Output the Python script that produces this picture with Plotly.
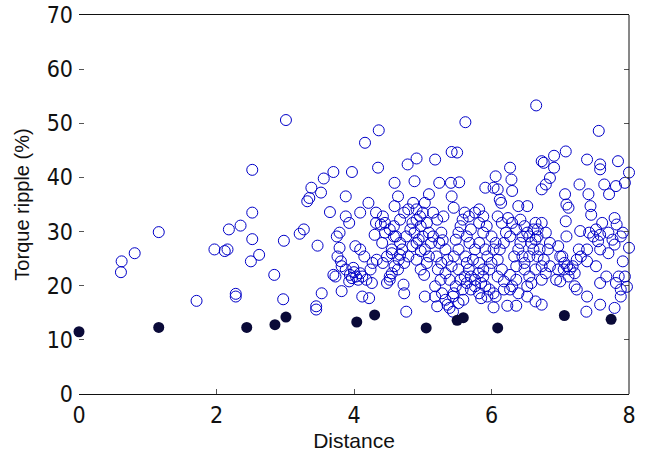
import plotly.graph_objects as go

# Open circles: all candidate designs (Distance, Torque ripple %)
cand_x = [
    0.61, 0.62, 0.81, 1.16, 1.71, 1.97, 2.12, 2.16, 2.18, 2.35, 2.28, 2.28, 2.50, 2.52, 2.52, 2.52,
    2.62, 2.84, 2.97, 2.98, 3.01, 3.21, 3.27, 3.32, 3.35, 3.38, 3.47, 3.45, 3.45, 3.53, 3.52, 3.56,
    3.65, 3.70, 3.70, 3.73, 3.75, 3.79, 3.79, 3.81, 3.82, 3.88, 3.88, 3.93, 3.97,
    3.88, 3.94, 3.97, 4.00, 4.03, 4.06, 4.09, 3.99, 3.93, 4.12, 4.18, 4.24, 4.27, 4.15, 4.09, 3.82, 3.76,
    4.02, 4.09, 4.16, 4.12, 4.21, 4.22, 4.26, 4.30, 4.32, 4.32, 4.33, 4.36, 4.35, 4.39, 4.45, 4.48,
    4.52, 4.55, 4.58, 4.59, 4.59, 4.64, 4.67, 4.72, 4.73, 4.76, 4.78, 4.88, 4.86, 4.91, 4.88, 4.91,
    4.96, 4.97, 5.02, 5.03, 5.09, 5.15, 5.18, 5.21, 5.24, 5.24, 5.27, 5.18, 5.21, 5.30, 5.27, 5.42,
    5.50, 5.41, 5.53, 5.42, 5.45, 5.62, 5.91, 6.03, 6.06, 6.09, 6.12, 6.14, 6.27, 6.29, 6.30, 6.24,
    6.39, 6.52, 6.65, 6.73, 6.76, 6.73, 6.79, 6.91, 6.91, 6.85, 7.08, 7.07, 7.09, 7.12, 7.08, 7.09,
    7.28, 7.29, 7.39, 7.41, 7.44, 7.45, 7.56, 7.58, 7.58, 7.64, 7.71, 7.84, 7.81, 7.94, 8.00, 7.79,
    7.82, 7.61, 7.58, 7.55, 7.58, 7.70, 7.88, 8.00, 7.91, 7.97, 7.88, 7.81, 7.79, 7.88, 7.58, 7.58,
    7.39, 7.38, 7.39, 7.39, 7.21, 7.24, 7.00, 7.00, 7.27, 6.73, 6.64, 6.52, 6.36, 6.23, 6.03, 6.06,
    5.85, 6.27,
    5.15, 5.20, 5.22, 5.26, 5.18, 5.28, 5.33, 5.36, 5.39, 5.44, 5.45, 5.48, 5.39, 5.33, 5.42, 5.45,
    5.52, 5.48, 5.52, 5.55, 5.58, 5.33, 5.29, 5.36, 5.52, 5.55, 5.58, 5.59, 5.52, 5.44,
    5.61, 5.67, 5.76, 5.82, 5.88, 5.70, 5.64, 5.68, 5.76, 5.82, 5.91, 5.94, 6.00, 5.97, 5.88, 5.82,
    5.73, 5.67, 5.70, 5.76, 5.85, 5.91, 5.97, 6.03, 5.94, 5.82, 5.70, 5.64, 5.61, 5.64, 5.62, 5.88,
    5.76, 5.81, 6.03, 6.06, 6.00, 5.93, 5.82, 5.88,
    6.09, 6.15, 6.21, 6.27, 6.18, 6.12, 6.09, 6.15, 6.09, 6.18, 6.27, 6.36, 6.33, 6.39, 6.42, 6.45,
    6.36, 6.30, 6.42, 6.48, 6.52, 6.45, 6.48, 6.36, 6.30, 6.18, 6.39,
    6.55, 6.58, 6.61, 6.64, 6.67, 6.70, 6.67, 6.73, 6.64, 6.55, 6.58, 6.52, 6.73, 6.79, 6.85, 6.76,
    6.82, 6.85, 6.79, 6.73, 6.61, 6.55, 6.48, 6.67, 6.64,
    4.42, 4.45, 4.52, 4.58, 4.61, 4.67, 4.70, 4.65, 4.59, 4.55, 4.52, 4.64, 4.73, 4.79, 4.76, 4.82,
    4.85, 4.91, 4.97, 5.00, 4.94, 4.85, 4.79, 4.73, 4.67, 4.91, 4.97, 5.06, 5.09, 5.03, 5.12, 5.09,
    5.06, 5.00, 5.03, 4.91, 4.55, 4.48, 4.42, 4.41,
    6.97, 7.03, 7.06, 7.10, 7.14, 7.18, 7.21, 7.12, 7.05, 6.97, 6.94, 7.24, 7.30,
    7.42, 7.48, 7.52, 7.70, 7.76, 7.79, 7.91, 7.94, 7.85, 7.67, 7.52,
]
cand_y = [
    22.5, 24.5, 26.0, 29.9, 17.2, 26.7, 26.4, 26.7, 30.4, 31.1, 18.5, 18.0, 24.5, 28.6, 33.5, 41.4,
    25.7, 22.0, 17.5, 28.3, 50.6, 29.6, 30.4, 35.6, 36.2, 38.1, 27.4, 16.2, 15.6, 18.6, 37.2, 39.8,
    33.6, 41.0, 22.0, 21.7, 29.1, 29.8, 27.0, 24.5, 19.0, 36.5, 32.8, 31.6, 41.0,
    23.0, 22.0, 21.4, 22.5, 21.7, 21.1, 22.3, 23.3, 20.8, 21.7, 21.1, 23.0, 24.2, 25.4, 26.7, 23.6, 25.4,
    27.3, 33.5, 46.4, 18.0, 35.3, 17.7, 20.5, 29.4, 31.6, 33.5, 24.8, 48.7, 41.8, 31.3, 29.8, 20.5,
    21.7, 26.0, 29.1, 39.0, 34.7, 36.5, 25.7, 20.2, 18.6, 15.2, 42.4, 39.3, 35.3, 43.5, 29.8, 27.9,
    32.8, 26.4, 22.0, 18.0, 36.9, 33.5, 43.3, 32.2, 39.0, 27.9, 24.2, 18.0, 16.2, 32.8, 29.8, 44.7,
    44.6, 39.0, 39.1, 36.5, 34.4, 50.2, 38.1, 38.1, 40.2, 37.8, 35.9, 35.3, 41.8, 39.6, 37.5, 32.5,
    34.7, 34.7, 53.3, 43.0, 42.7, 37.8, 38.7, 44.0, 41.8, 39.9, 44.8, 36.9, 35.0, 34.4, 31.9, 29.1,
    38.7, 30.1, 43.3, 36.9, 34.7, 33.1, 48.6, 42.4, 41.5, 38.7, 36.9, 43.0, 38.4, 39.0, 40.9, 32.5,
    31.3, 31.6, 29.4, 28.2, 26.7, 26.0, 29.1, 27.0, 24.5, 19.8, 19.3, 20.5, 15.9, 18.0, 20.5, 16.5,
    18.0, 15.2, 24.5, 26.7, 19.9, 19.3, 20.8, 25.4, 26.7, 16.5, 17.1, 18.0, 16.3, 16.3, 16.0, 18.0,
    17.7, 19.3,
    29.1, 25.4, 23.0, 21.1, 19.9, 18.6, 17.4, 16.5, 15.9, 15.2, 18.6, 19.9, 21.1, 22.3, 23.6, 25.4,
    26.7, 28.5, 29.8, 31.0, 32.2, 26.7, 28.4, 24.8, 23.0, 21.1, 19.3, 17.4, 16.8, 18.0,
    33.5, 32.8, 33.5, 31.6, 29.8, 30.4, 29.1, 27.9, 26.7, 27.9, 26.7, 25.4, 24.2, 23.0, 23.0, 24.2,
    24.8, 23.0, 21.7, 21.1, 20.5, 19.9, 19.3, 18.6, 18.0, 18.6, 19.3, 20.5, 21.7, 24.2, 25.4, 21.7,
    19.9, 22.3, 26.7, 27.9, 29.1, 31.0, 34.1, 32.8,
    32.8, 31.6, 29.8, 29.1, 27.9, 26.7, 24.8, 23.0, 21.7, 20.8, 22.0, 23.6, 25.4, 26.7, 27.9, 29.1,
    30.4, 31.6, 32.2, 31.0, 29.8, 25.4, 23.0, 21.1, 19.9, 19.3, 18.6,
    29.1, 27.9, 30.4, 31.6, 29.1, 26.7, 25.4, 23.6, 23.0, 21.7, 20.5, 19.9, 21.1, 22.3, 23.6, 24.8,
    26.7, 27.9, 29.8, 31.6, 26.7, 25.4, 24.2, 30.4, 28.5,
    32.8, 31.6, 30.4, 31.0, 29.1, 27.9, 26.7, 24.8, 23.6, 22.3, 21.1, 23.0, 24.2, 25.4, 29.1, 30.4,
    31.6, 32.2, 31.0, 29.1, 28.5, 27.3, 34.1, 33.5, 32.2, 24.8, 23.0, 24.2, 25.4, 26.7, 27.9, 29.8,
    31.6, 33.5, 35.3, 34.1, 26.7, 25.4, 24.2, 27.9,
    27.3, 25.4, 24.2, 23.6, 23.0, 23.6, 22.3, 21.7, 23.0, 23.0, 21.1, 24.8, 25.4,
    29.8, 29.1, 30.4, 29.8, 28.5, 27.6, 29.8, 21.7, 21.7, 21.7, 23.6,
]

# Filled dots: Pareto-optimal designs
pareto_x = [0.0, 1.16, 2.44, 2.85, 3.01, 4.04, 4.30, 5.05, 5.50, 5.59, 6.09, 7.06, 7.74]
pareto_y = [11.5, 12.3, 12.3, 12.8, 14.2, 13.3, 14.6, 12.2, 13.6, 14.1, 12.2, 14.5, 13.8]

x_ticks = [0, 2, 4, 6, 8]
y_ticks = [0, 10, 20, 30, 40, 50, 60, 70]

fig = go.Figure()
fig.add_trace(go.Scatter(
    x=cand_x, y=cand_y, mode="markers", cliponaxis=False,
    marker=dict(symbol="circle-open", size=11, color="#0000c8", line=dict(width=1, color="#0000c8")),
    showlegend=False,
))
fig.add_trace(go.Scatter(
    x=pareto_x, y=pareto_y, mode="markers", cliponaxis=False,
    marker=dict(symbol="circle", size=11, color="#0a0a38"),
    showlegend=False,
))

tick_font = dict(family="Liberation Sans Narrow, DejaVu Sans Condensed, Liberation Sans, Arial", size=23, color="#111")

fig.update_layout(
    width=652, height=452,
    margin=dict(l=79, r=23, t=15, b=58),
    paper_bgcolor="white", plot_bgcolor="white",
    xaxis=dict(
        range=[0, 8], tickvals=x_ticks, ticktext=[str(v) for v in x_ticks],
        showgrid=False, zeroline=False, showline=True, linecolor="#111", linewidth=1,
        mirror=True, ticks="inside", ticklen=5, tickcolor="#555", automargin=False,
        tickfont=tick_font, ticklabeloverflow="allow",
        title=dict(text="Distance", standoff=6,
                   font=dict(family="Liberation Sans Narrow, Liberation Sans, Arial", size=21, color="#111")),
    ),
    yaxis=dict(
        range=[0, 70], tickvals=y_ticks, ticktext=[str(v) for v in y_ticks],
        showgrid=False, zeroline=False, showline=False, automargin=False,
        mirror="ticks", ticks="inside", ticklen=5, tickcolor="#555",
        tickfont=tick_font, ticklabeloverflow="allow", ticklabelstandoff=5,
        title=dict(text="Torque ripple (%)", standoff=11,
                   font=dict(family="Liberation Sans, Arial", size=20, color="#111")),
    ),
    shapes=[dict(type="line", xref="paper", yref="paper", x0=1, x1=1, y0=0, y1=1,
                 line=dict(color="#111", width=1))],
)

fig.write_html("out.html")
